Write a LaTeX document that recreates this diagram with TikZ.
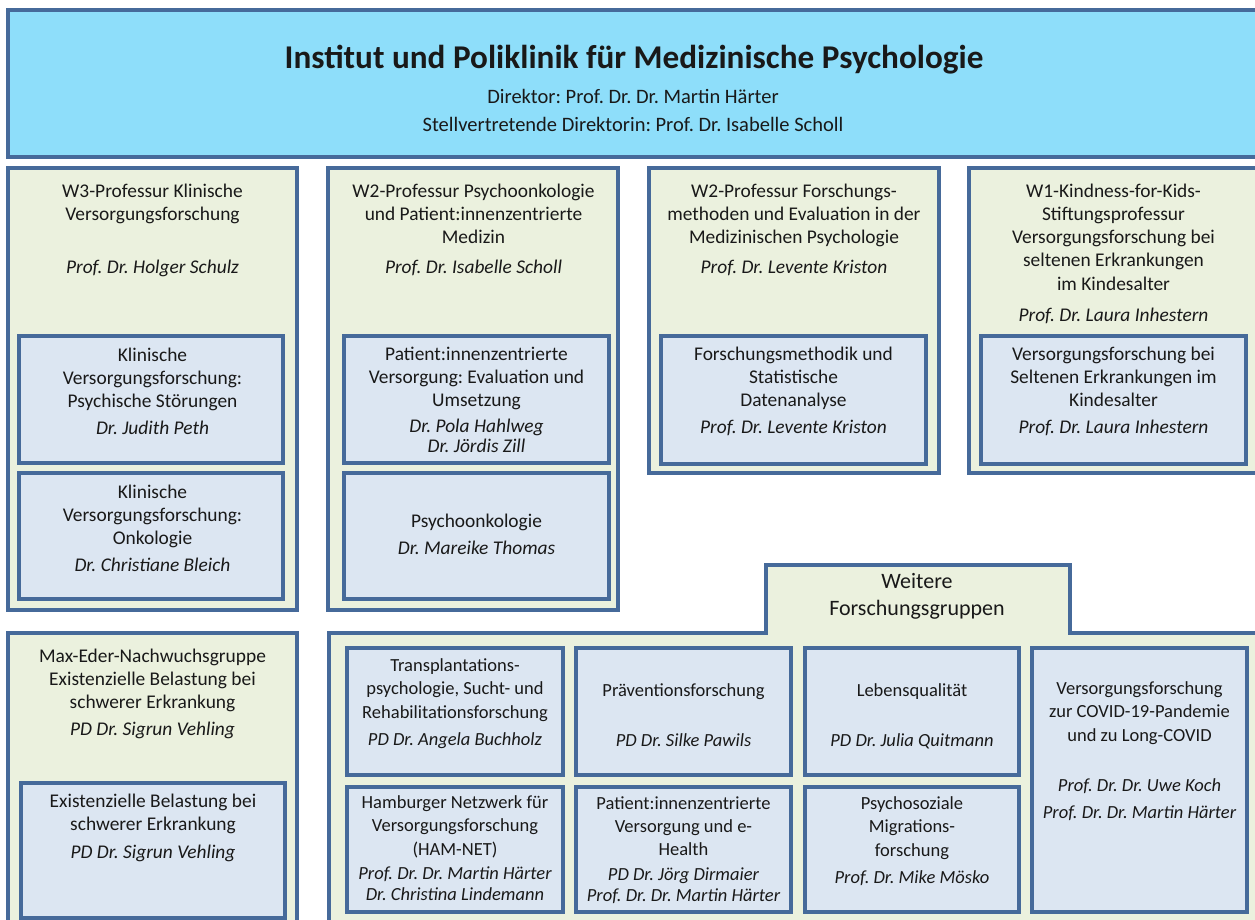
\documentclass[tikz,border=0pt]{standalone}
\usepackage{fontspec}
\setmainfont{Carlito}
\frenchspacing
\definecolor{hdr}{RGB}{142,222,250}
\definecolor{bord}{RGB}{70,106,154}
\definecolor{grn}{RGB}{235,241,222}
\definecolor{blu}{RGB}{220,230,242}
\definecolor{txtc}{RGB}{25,25,25}
\tikzset{
  boxbase/.style={draw=bord, line width=3.4pt, rectangle, anchor=north west, inner sep=0pt, outer sep=0pt},
  hdrbox/.style={boxbase, fill=hdr},
  outerbox/.style={boxbase, fill=grn},
  innerbox/.style={boxbase, fill=blu},
  txt/.style={align=center, inner sep=0pt, text=txtc, anchor=north,
     font=\fontsize{19.4}{23.3}\selectfont\frenchspacing, execute at begin node=\strut},
  nm/.style={txt, font=\fontsize{19.4}{23.3}\selectfont\itshape\frenchspacing},
  stxt/.style={txt, font=\fontsize{18.5}{23.3}\selectfont\frenchspacing},
  snm/.style={txt, font=\fontsize{18.5}{23.3}\selectfont\itshape\frenchspacing},
  tabtxt/.style={txt, font=\fontsize{22}{27}\selectfont},
}
\newcommand{\bx}[6]{\node[#2, minimum width=#5pt-#3pt, minimum height=#6pt-#4pt] (#1) at (#3,#4) {};}
\newcommand{\tx}[5]{\node[#2] (#1) at (#3,{#4-8.6}) {#5};}
\begin{document}
\begin{tikzpicture}[x=1pt,y=-1pt]
\useasboundingbox (0,0) rectangle (1255,920);
\clip (0,0) rectangle (1255,920);
\fill[white] (0,0) rectangle (1255,920);
% header
\bx{hdr}{hdrbox}{8}{10}{1264}{157}
\node[anchor=base, text=txtc, font=\fontsize{33.2}{40}\selectfont\bfseries, inner sep=0pt] (title) at (634,69) {Institut und Poliklinik für Medizinische Psychologie};
\node[anchor=base, text=txtc, font=\fontsize{20.5}{24}\selectfont\frenchspacing, inner sep=0pt] (dir) at (633,104) {Direktor: Prof. Dr. Dr. Martin Härter};
\node[anchor=base, text=txtc, font=\fontsize{20.5}{24}\selectfont\frenchspacing, inner sep=0pt] (sdir) at (633,132) {Stellvertretende Direktorin: Prof. Dr. Isabelle Scholl};
% column boxes
\bx{c1}{outerbox}{8}{168}{297}{610}
\bx{c1a}{innerbox}{19}{336}{283}{463}
\bx{c1b}{innerbox}{19}{473}{283}{599}
\bx{c2}{outerbox}{328}{168}{618}{610}
\bx{c2a}{innerbox}{344}{336}{609}{463}
\bx{c2b}{innerbox}{344}{473}{609}{599}
\bx{c3}{outerbox}{649}{168}{939}{473}
\bx{c3a}{innerbox}{661}{336}{926}{464}
\bx{c4}{outerbox}{969}{168}{1264}{473}
\bx{c4a}{innerbox}{981}{336}{1246}{464}
\bx{bl}{outerbox}{8}{633}{297}{935}
\bx{bla}{innerbox}{21}{783}{285}{918}
% further groups with tab
\filldraw[fill=grn, draw=bord, line width=3.4pt, line join=miter]
  (329,935) -- (329,633) -- (766,633) -- (766,565) -- (1070,565) -- (1070,633) -- (1264,633) -- (1264,935) -- cycle;
\bx{b1}{innerbox}{347}{648}{563}{775}
\bx{b2}{innerbox}{576}{648}{791}{775}
\bx{b3}{innerbox}{805}{648}{1019}{775}
\bx{b4}{innerbox}{1032}{648}{1247}{912}
\bx{b5}{innerbox}{347}{787}{563}{912}
\bx{b6}{innerbox}{576}{787}{791}{912}
\bx{b7}{innerbox}{805}{787}{1019}{912}
% texts column 1
\tx{c1t}{txt}{152.5}{192}{W3-Professur Klinische\\Versorgungsforschung}
\tx{c1n}{nm}{152.5}{266}{Prof. Dr. Holger Schulz}
\tx{c1at}{txt}{152.5}{356}{Klinische\\Versorgungsforschung:\\Psychische Störungen}
\tx{c1an}{nm}{152.5}{427}{Dr. Judith Peth}
\tx{c1bt}{txt}{152.5}{493}{Klinische\\Versorgungsforschung:\\Onkologie}
\tx{c1bn}{nm}{152.5}{564}{Dr. Christiane Bleich}
% column 2
\tx{c2t}{txt}{473.5}{192}{W2-Professur Psychoonkologie\\und Patient:innenzentrierte\\Medizin}
\tx{c2n}{nm}{473.5}{266}{Prof. Dr. Isabelle Scholl}
\tx{c2at}{txt}{476.5}{355}{Patient:innenzentrierte\\Versorgung: Evaluation und\\Umsetzung}
\tx{c2an}{nm}{476.5}{427}{Dr. Pola Hahlweg\\[-2.5pt]Dr. Jördis Zill}
\tx{c2bt}{txt}{476.5}{520}{Psychoonkologie}
\tx{c2bn}{nm}{476.5}{547}{Dr. Mareike Thomas}
% column 3
\tx{c3t}{txt}{794}{192}{W2-Professur Forschungs-\\methoden und Evaluation in der\\Medizinischen Psychologie}
\tx{c3n}{nm}{794}{266}{Prof. Dr. Levente Kriston}
\tx{c3at}{txt}{793.5}{355}{Forschungsmethodik und\\Statistische\\Datenanalyse}
\tx{c3an}{nm}{793.5}{426}{Prof. Dr. Levente Kriston}
% column 4
\tx{c4t}{txt}{1113.5}{192}{W1-Kindness-for-Kids-\\Stiftungsprofessur\\Versorgungsforschung bei\\seltenen Erkrankungen\\im Kindesalter}
\tx{c4n}{nm}{1113.5}{314}{Prof. Dr. Laura Inhestern}
\tx{c4at}{txt}{1113.5}{355}{Versorgungsforschung bei\\Seltenen Erkrankungen im\\Kindesalter}
\tx{c4an}{nm}{1113.5}{426}{Prof. Dr. Laura Inhestern}
% bottom left
\tx{blt}{txt}{152.5}{657}{Max-Eder-Nachwuchsgruppe\\Existenzielle Belastung bei\\schwerer Erkrankung}
\tx{bln}{nm}{152.5}{728}{PD Dr. Sigrun Vehling}
\tx{blat}{txt}{153}{802}{Existenzielle Belastung bei\\schwerer Erkrankung}
\tx{blan}{nm}{153}{851}{PD Dr. Sigrun Vehling}
% tab
\node[tabtxt] (tabt) at (917,{585-11.5}) {Weitere\\Forschungsgruppen};
% further groups
\tx{b1t}{stxt}{455}{667}{Transplantations-\\psychologie, Sucht- und\\Rehabilitationsforschung}
\tx{b1n}{snm}{455}{738}{PD Dr. Angela Buchholz}
\tx{b2t}{stxt}{683.5}{689}{Präventionsforschung}
\tx{b2n}{snm}{683.5}{739}{PD Dr. Silke Pawils}
\tx{b3t}{stxt}{912}{689}{Lebensqualität}
\tx{b3n}{snm}{912}{739}{PD Dr. Julia Quitmann}
\tx{b4t}{stxt}{1139.5}{690}{Versorgungsforschung\\zur COVID-19-Pandemie\\und zu Long-COVID}
\tx{b4n}{snm}{1139.5}{787}{Prof. Dr. Dr. Uwe Koch\\[3.5pt]Prof. Dr. Dr. Martin Härter}
\tx{b5t}{stxt}{455}{804}{Hamburger Netzwerk für\\Versorgungsforschung\\(HAM-NET)}
\tx{b5n}{snm}{455}{875}{Prof. Dr. Dr. Martin Härter\\[-2.3pt]Dr. Christina Lindemann}
\tx{b6t}{stxt}{683.5}{805}{Patient:innenzentrierte\\Versorgung und e-\\Health}
\tx{b6n}{snm}{683.5}{876}{PD Dr. Jörg Dirmaier\\[-2.3pt]Prof. Dr. Dr. Martin Härter}
\tx{b7t}{stxt}{912}{805}{Psychosoziale\\Migrations-\\forschung}
\tx{b7n}{snm}{912}{876}{Prof. Dr. Mike Mösko}
\end{tikzpicture}
\end{document}
